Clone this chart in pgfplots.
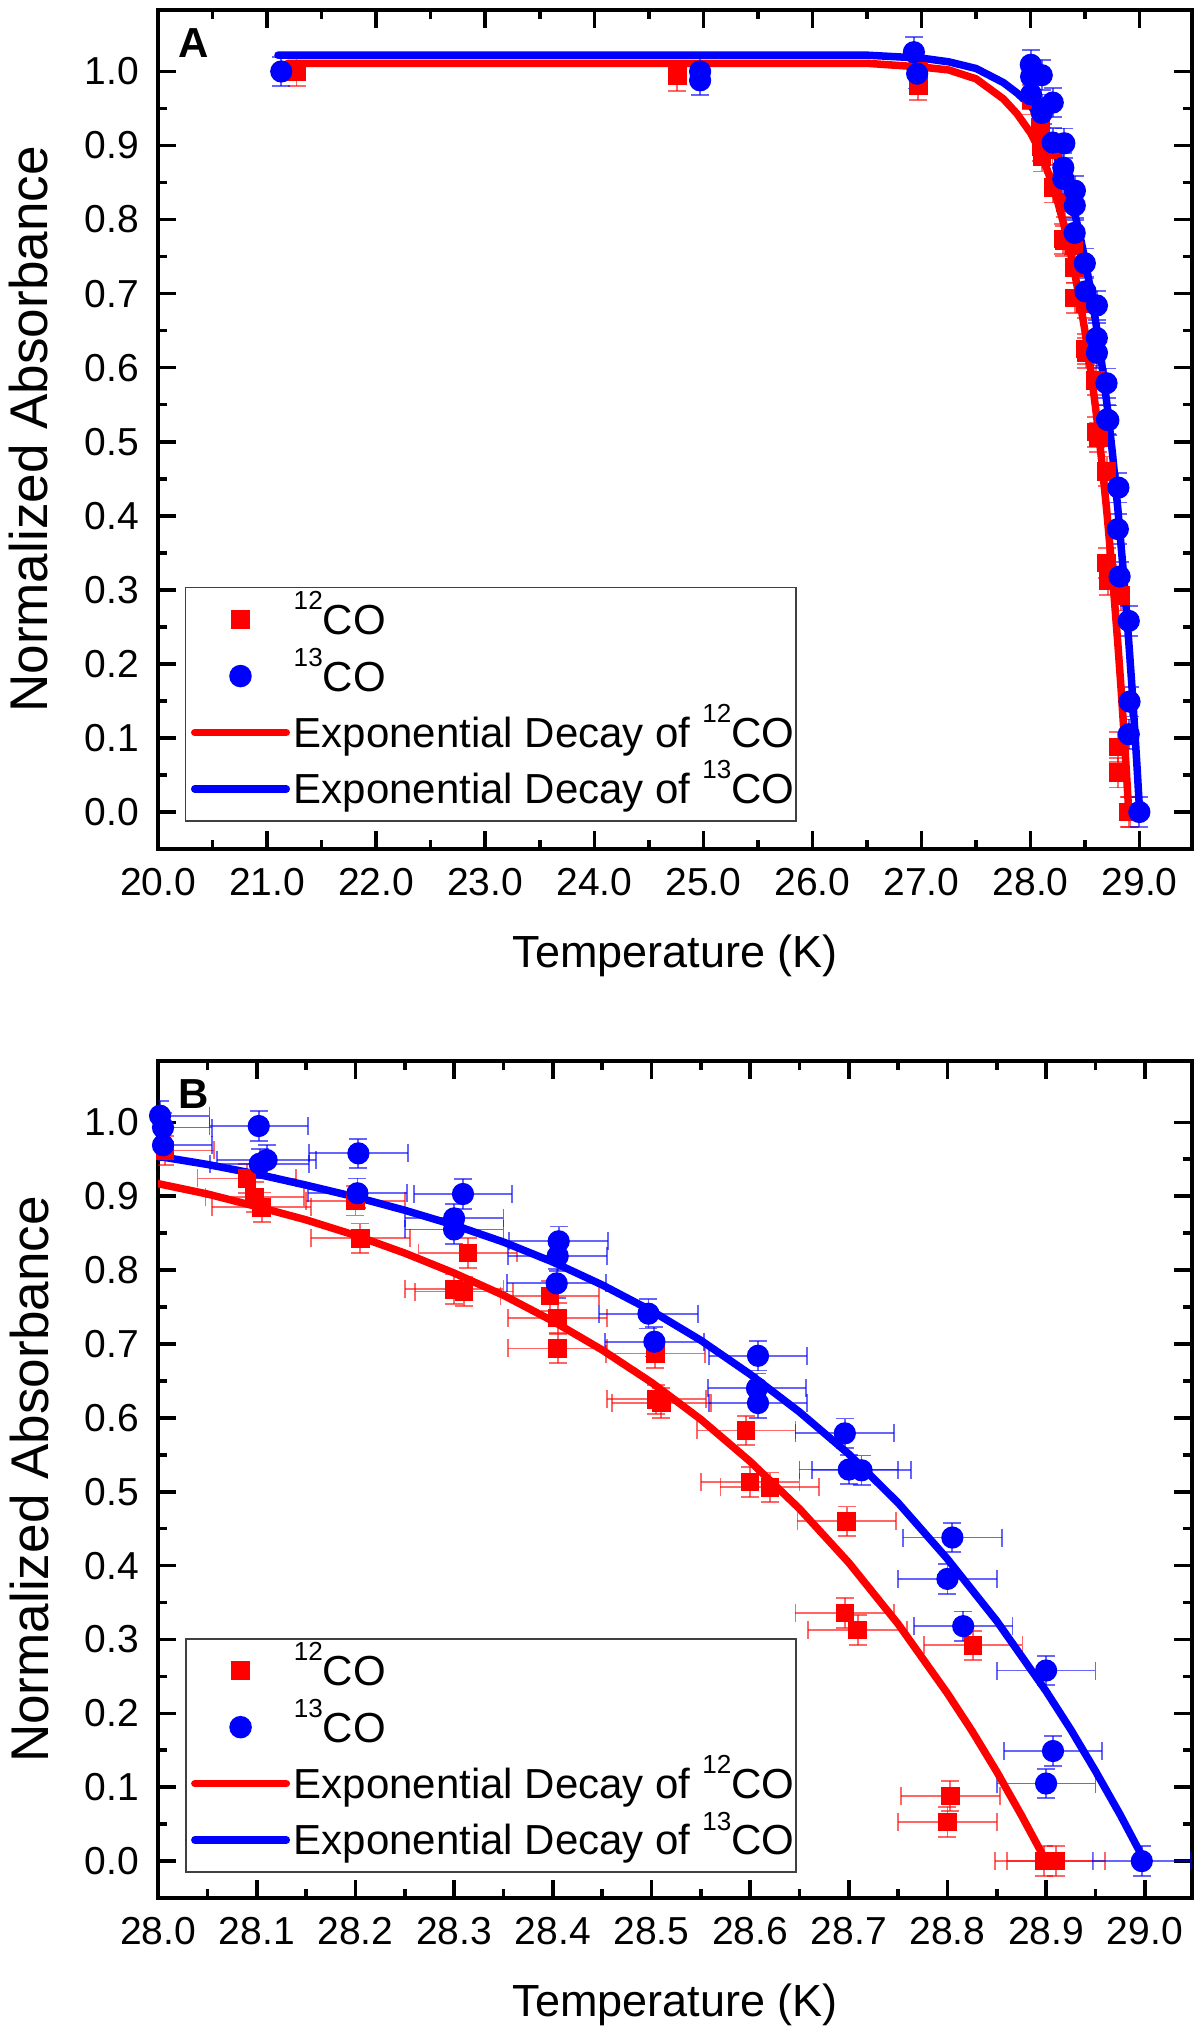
\documentclass[border=0pt]{standalone}
\usepackage{fontspec}
\setmainfont{Liberation Sans}
\usepackage{pgfplots}
\pgfplotsset{compat=1.18}
\usepackage{pgfplotstable}

\definecolor{cred}{RGB}{255,0,0}
\definecolor{cblue}{RGB}{0,0,255}
\newcommand\sups[1]{\raisebox{8.3pt}{\fontsize{8.7}{8.7}\selectfont #1}}

\pgfplotstableread{
x y ex ey
21.27 1.000 0.05 0.02
24.76 0.994 0.05 0.02
26.97 1.000 0.05 0.02
26.97 0.981 0.05 0.02
28.007 0.962 0.05 0.02
28.090 0.924 0.05 0.02
28.098 0.899 0.05 0.02
28.105 0.885 0.05 0.02
28.200 0.894 0.05 0.02
28.205 0.843 0.05 0.02
28.300 0.774 0.05 0.02
28.310 0.771 0.05 0.02
28.314 0.823 0.05 0.02
28.397 0.765 0.05 0.02
28.405 0.735 0.05 0.02
28.405 0.694 0.05 0.02
28.504 0.687 0.05 0.02
28.505 0.625 0.05 0.02
28.510 0.620 0.05 0.02
28.596 0.583 0.05 0.02
28.600 0.513 0.05 0.02
28.620 0.506 0.05 0.02
28.698 0.460 0.05 0.02
28.696 0.336 0.05 0.02
28.709 0.313 0.05 0.02
28.826 0.292 0.05 0.02
28.803 0.088 0.05 0.02
28.800 0.053 0.05 0.02
28.898 0.000 0.05 0.02
28.910 0.000 0.05 0.02
}\redtab

\pgfplotstableread{
x y ex ey
21.13 1.000 0.05 0.02
24.97 1.000 0.05 0.02
24.97 0.988 0.05 0.02
26.93 1.026 0.05 0.02
26.96 0.997 0.05 0.02
28.002 1.009 0.05 0.02
28.005 0.993 0.05 0.02
28.005 0.969 0.05 0.02
28.102 0.995 0.05 0.02
28.110 0.949 0.05 0.02
28.103 0.944 0.05 0.02
28.203 0.958 0.05 0.02
28.202 0.904 0.05 0.02
28.309 0.903 0.05 0.02
28.300 0.870 0.05 0.02
28.300 0.855 0.05 0.02
28.406 0.839 0.05 0.02
28.405 0.819 0.05 0.02
28.404 0.782 0.05 0.02
28.497 0.741 0.05 0.02
28.503 0.703 0.05 0.02
28.608 0.684 0.05 0.02
28.607 0.640 0.05 0.02
28.608 0.620 0.05 0.02
28.696 0.579 0.05 0.02
28.700 0.530 0.05 0.02
28.713 0.529 0.05 0.02
28.805 0.438 0.05 0.02
28.800 0.382 0.05 0.02
28.816 0.318 0.05 0.02
28.900 0.258 0.05 0.02
28.907 0.149 0.05 0.02
28.900 0.105 0.05 0.02
28.997 0.000 0.05 0.02
}\bluetab

\pgfplotstableread{
x y
21.19 1.011
26.50 1.011
27.00 1.006
27.25 1.002
27.50 0.990
27.75 0.963
27.875 0.943
28.00 0.917
28.05 0.903
28.10 0.886
28.15 0.868
28.20 0.847
28.25 0.823
28.30 0.796
28.35 0.766
28.40 0.731
28.45 0.692
28.50 0.648
28.55 0.598
28.60 0.541
28.65 0.477
28.70 0.404
28.75 0.321
28.80 0.227
28.825 0.176
28.85 0.121
28.875 0.062
28.90 0.000
}\redfit

\pgfplotstableread{
x y
21.10 1.022
26.50 1.022
27.00 1.018
27.25 1.013
27.50 1.004
27.75 0.985
27.875 0.971
28.00 0.954
28.05 0.943
28.10 0.930
28.15 0.915
28.20 0.899
28.25 0.881
28.30 0.861
28.35 0.838
28.40 0.811
28.45 0.780
28.50 0.745
28.55 0.705
28.60 0.659
28.65 0.608
28.70 0.551
28.75 0.485
28.80 0.409
28.85 0.325
28.90 0.230
28.925 0.178
28.95 0.122
28.975 0.063
29.00 0.000
}\bluefit

\pgfplotsset{
  mystyle/.style={
    scale only axis, width=344.67pt,
    axis line style={line width=1.2pt},
    every tick/.style={line width=1.2pt, black},
    major tick length=6pt, minor tick length=3pt,
    tick align=inside, tick pos=both,
    ymin=-0.05, ymax=1.083,
    ytick={0,0.1,0.2,0.3,0.4,0.5,0.6,0.7,0.8,0.9,1.0},
    minor y tick num=1, minor x tick num=1,
    /pgf/number format/fixed, /pgf/number format/fixed zerofill,
    /pgf/number format/precision=1, /pgf/number format/assume math mode=true,
    tick label style={font=\fontsize{13}{13}\selectfont},
    xticklabel style={yshift=-3pt},
    yticklabel style={xshift=-2.8pt},
    every axis x label/.style={at={(axis description cs:0.5,0)}, anchor=base, yshift=-39.5pt, font=\fontsize{15}{15}\selectfont},
    every axis y label/.style={at={(axis description cs:-0.1248,0.5)}, rotate=90, anchor=center, font=\fontsize{17.7}{17.7}\selectfont},
    xlabel={Temperature (K)}, ylabel={Normalized Absorbance},
    legend cell align=left,
    legend style={draw=black!75, line width=0.5pt, fill=white,
      inner xsep=0.5pt, inner ysep=3.65pt,
      font=\fontsize{14}{14}\selectfont,
      row sep=4.8pt,
      nodes={inner sep=0pt, text height=12pt, text depth=2pt},
      /tikz/every even column/.append style={column sep=3.8pt}},
  },
  errstyle/.style={
    /pgfplots/error bars/x dir=both, /pgfplots/error bars/x explicit,
    /pgfplots/error bars/y dir=both, /pgfplots/error bars/y explicit,
    /pgfplots/error bars/error bar style={line width=0.6pt, opacity=0.6},
    /pgfplots/error bars/error mark options={rotate=90, mark size=3pt, line width=0.6pt, opacity=0.6}},
  reddata/.style={only marks, mark=square*, mark size=2.9pt, color=cred, mark options={draw=cred, fill=cred}, errstyle},
  bluedata/.style={only marks, mark=*, mark size=3.5pt, color=cblue, mark options={draw=cblue, fill=cblue}, errstyle},
  markimg/.style={legend image code/.code={\path (0pt,0pt) (33pt,0pt); \path[only marks, mark repeat=2, mark phase=2] plot coordinates {(0pt,0pt) (16.5pt,0pt) (33pt,0pt)};}},
  lineimg/.style={legend image code/.code={\path (0pt,0pt) (33pt,0pt); \draw[line width=2.5pt, line cap=round] (1.25pt,0pt) -- (31.75pt,0pt);}},
  fitline/.style={line width=2.5pt, line cap=round, line join=round, no markers},
}

\begin{document}
\begin{tikzpicture}
\useasboundingbox (0,0) rectangle (400pt,-677.33pt);

\begin{axis}[mystyle, at={(52.67pt,-3.33pt)}, anchor=north west, height=279.67pt,
  xmin=20, xmax=29.48, xtick={20,21,22,23,24,25,26,27,28,29},
  legend style={at={(0.0261,0.3123)}, anchor=north west}]
  \addplot[reddata, markimg] table[x=x, y=y, x error=ex, y error=ey] {\redtab};
  \addlegendentry{\sups{12}CO}
  \addplot[bluedata, markimg] table[x=x, y=y, x error=ex, y error=ey] {\bluetab};
  \addlegendentry{\sups{13}CO}
  \addplot[fitline, cred, lineimg] table[x=x, y=y] {\redfit};
  \addlegendentry{Exponential Decay of \sups{12}CO}
  \addplot[fitline, cblue, lineimg] table[x=x, y=y] {\bluefit};
  \addlegendentry{Exponential Decay of \sups{13}CO}
  \node[anchor=north west, inner sep=0pt, font=\bfseries\fontsize{14}{14}\selectfont, xshift=6.7pt, yshift=-6pt] at (rel axis cs:0,1) {A};
\end{axis}

\begin{axis}[mystyle, at={(52.67pt,-353.67pt)}, anchor=north west, height=279pt,
  xmin=28, xmax=29.048, xtick={28.0,28.1,28.2,28.3,28.4,28.5,28.6,28.7,28.8,28.9,29.0},
  legend style={at={(0.0261,0.3106)}, anchor=north west}]
  \addplot[reddata, markimg] table[x=x, y=y, x error=ex, y error=ey] {\redtab};
  \addlegendentry{\sups{12}CO}
  \addplot[bluedata, markimg] table[x=x, y=y, x error=ex, y error=ey] {\bluetab};
  \addlegendentry{\sups{13}CO}
  \addplot[fitline, cred, lineimg] table[x=x, y=y] {\redfit};
  \addlegendentry{Exponential Decay of \sups{12}CO}
  \addplot[fitline, cblue, lineimg] table[x=x, y=y] {\bluefit};
  \addlegendentry{Exponential Decay of \sups{13}CO}
  \node[anchor=north west, inner sep=0pt, font=\bfseries\fontsize{14}{14}\selectfont, xshift=6.7pt, yshift=-6pt] at (rel axis cs:0,1) {B};
\end{axis}
\end{tikzpicture}
\end{document}
